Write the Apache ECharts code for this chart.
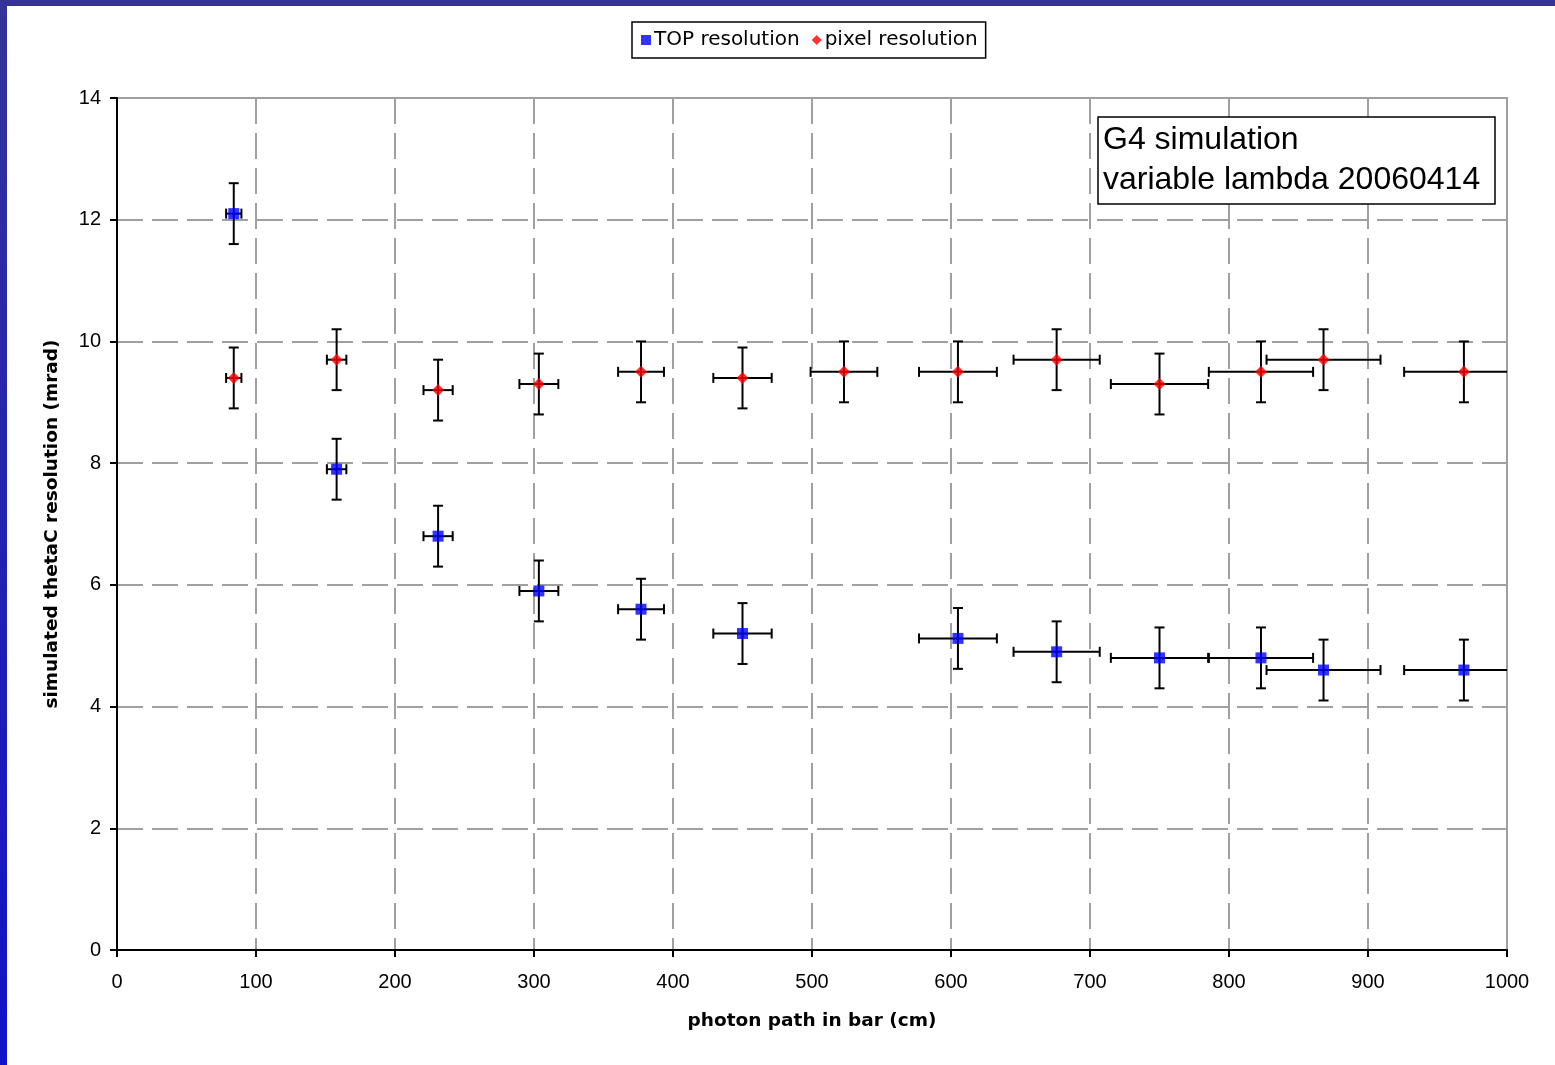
<!DOCTYPE html>
<html>
<head>
<meta charset="utf-8">
<script src="https://cdn.jsdelivr.net/npm/echarts@6/dist/echarts.min.js"></script>
<style>
html,body{margin:0;padding:0;background:#fff;}
#chart{width:1555px;height:1065px;}
</style>
</head>
<body>
<div id="chart"></div>
<script>
// ---- data ----
const topX    = [84, 158, 231, 303.5, 377, 450, 605, 676, 750, 823, 868, 969];
const topY    = [12.1, 7.9, 6.8, 5.9, 5.6, 5.2, 5.12, 4.9, 4.8, 4.8, 4.6, 4.6];
const topXErr = [5.5, 7, 10.5, 14, 16.5, 21, 28, 31, 35, 37.5, 41, 43];
const topYErr = [0.5, 0.5, 0.5, 0.5, 0.5, 0.5, 0.5, 0.5, 0.5, 0.5, 0.5, 0.5];

const pixX    = [84, 158, 231, 303.5, 377, 450, 523, 605, 676, 750, 823, 868, 969];
const pixY    = [9.4, 9.7, 9.2, 9.3, 9.5, 9.4, 9.5, 9.5, 9.7, 9.3, 9.5, 9.7, 9.5];
const pixXErr = [5.5, 7, 10.5, 14, 16.5, 21, 24, 28, 31, 35, 37.5, 41, 43];
const pixYErr = [0.5, 0.5, 0.5, 0.5, 0.5, 0.5, 0.5, 0.5, 0.5, 0.5, 0.5, 0.5, 0.5];

const xTicks = [0, 100, 200, 300, 400, 500, 600, 700, 800, 900, 1000];
const yTicks = [0, 2, 4, 6, 8, 10, 12, 14];

const FONT = '"Liberation Sans", Arial, sans-serif';
const WIDE = '"DejaVu Sans", Verdana, sans-serif';

function errData(xs, ys, xe, ye) {
  return xs.map((x, i) => [x, ys[i], xe[i], ye[i]]);
}

function renderErr(params, api) {
  const x = api.value(0), y = api.value(1), xe = api.value(2), ye = api.value(3);
  const c = api.coord([x, y]);
  const l = api.coord([x - xe, y]);
  const r = api.coord([x + xe, y]);
  const t = api.coord([x, y + ye]);
  const b = api.coord([x, y - ye]);
  const cap = 5;
  const style = { stroke: '#000', lineWidth: 2, fill: null };
  const seg = (x1, y1, x2, y2) => ({ type: 'line', shape: { x1, y1, x2, y2 }, style });
  return {
    type: 'group',
    children: [
      seg(l[0], c[1], r[0], c[1]),
      seg(l[0], c[1] - cap, l[0], c[1] + cap),
      seg(r[0], c[1] - cap, r[0], c[1] + cap),
      seg(c[0], t[1], c[0], b[1]),
      seg(c[0] - cap, t[1], c[0] + cap, t[1]),
      seg(c[0] - cap, b[1], c[0] + cap, b[1])
    ]
  };
}

const chart = echarts.init(document.getElementById('chart'), null, { renderer: 'canvas' });

const option = {
  backgroundColor: '#ffffff',
  animation: false,
  textStyle: { fontFamily: FONT },
  graphic: [
    { type: 'rect', left: 0, top: 0, shape: { width: 1555, height: 6 }, style: { fill: '#333399' }, z: 100 },
    { type: 'rect', left: 0, top: 0, shape: { width: 7, height: 1065 },
      style: { fill: new echarts.graphic.LinearGradient(0, 0, 0, 1, [
        { offset: 0, color: '#333399' }, { offset: 1, color: '#1212c8' }]) }, z: 100 }
  ],
  title: {
    text: 'G4 simulation\nvariable lambda 20060414',
    left: 1098, top: 117,
    padding: [3, 15, 4, 5],
    borderColor: '#000', borderWidth: 1.5,
    backgroundColor: '#fff',
    textStyle: { fontFamily: FONT, fontSize: 32, fontWeight: 'normal', color: '#000', lineHeight: 40 },
    z: 10
  },
  legend: {
    data: ['TOP resolution', 'pixel resolution'],
    left: 632, top: 22,
    padding: [8, 8, 8, 9],
    borderColor: '#000', borderWidth: 1.5,
    itemWidth: 10, itemHeight: 10, itemGap: 12,
    textStyle: { fontFamily: WIDE, fontSize: 20, color: '#000', padding: [0, 0, 0, -2] }
  },
  grid: {
    left: 117, top: 98, width: 1390, height: 852,
    show: true, borderColor: '#a0a0a0', borderWidth: 2, backgroundColor: '#fff'
  },
  xAxis: {
    type: 'value', min: 0, max: 1000, interval: 100,
    name: 'photon path in bar (cm)', nameLocation: 'middle', nameGap: 62,
    nameTextStyle: { fontFamily: WIDE, fontSize: 18.5, fontWeight: 'bold', color: '#000' },
    axisLine: { show: true, lineStyle: { color: '#000', width: 2 } },
    axisTick: { show: true, length: 7, lineStyle: { color: '#000', width: 2 } },
    axisLabel: { fontFamily: FONT, fontSize: 20, color: '#000', margin: 22,
      formatter: v => xTicks.includes(v) ? String(v) : '' },
    splitLine: { show: true, lineStyle: { color: '#a0a0a0', width: 2, type: [26, 9] } }
  },
  yAxis: {
    type: 'value', min: 0, max: 14, interval: 2,
    name: 'simulated thetaC resolution (mrad)', nameLocation: 'middle', nameGap: 55,
    nameTextStyle: { fontFamily: WIDE, fontSize: 18.5, fontWeight: 'bold', color: '#000' },
    axisLine: { show: true, lineStyle: { color: '#000', width: 2 } },
    axisTick: { show: true, length: 7, lineStyle: { color: '#000', width: 2 } },
    axisLabel: { fontFamily: FONT, fontSize: 20, color: '#000', margin: 16,
      formatter: v => yTicks.includes(v) ? String(v) : '' },
    splitLine: { show: true, lineStyle: { color: '#a0a0a0', width: 2, type: [26, 9] } }
  },
  series: [
    { type: 'custom', name: 'topErr', renderItem: renderErr, clip: true,
      data: errData(topX, topY, topXErr, topYErr), z: 3, silent: true },
    { type: 'custom', name: 'pixErr', renderItem: renderErr, clip: true,
      data: errData(pixX, pixY, pixXErr, pixYErr), z: 3, silent: true },
    { type: 'scatter', name: 'TOP resolution', symbol: 'rect', symbolSize: 11,
      itemStyle: { color: '#0000ff' }, data: topX.map((x, i) => [x, topY[i]]), z: 5 },
    { type: 'scatter', name: 'pixel resolution', symbol: 'diamond', symbolSize: 12,
      itemStyle: { color: '#ff0000' }, data: pixX.map((x, i) => [x, pixY[i]]), z: 5 }
  ]
};
chart.setOption(option);
</script>
</body>
</html>
